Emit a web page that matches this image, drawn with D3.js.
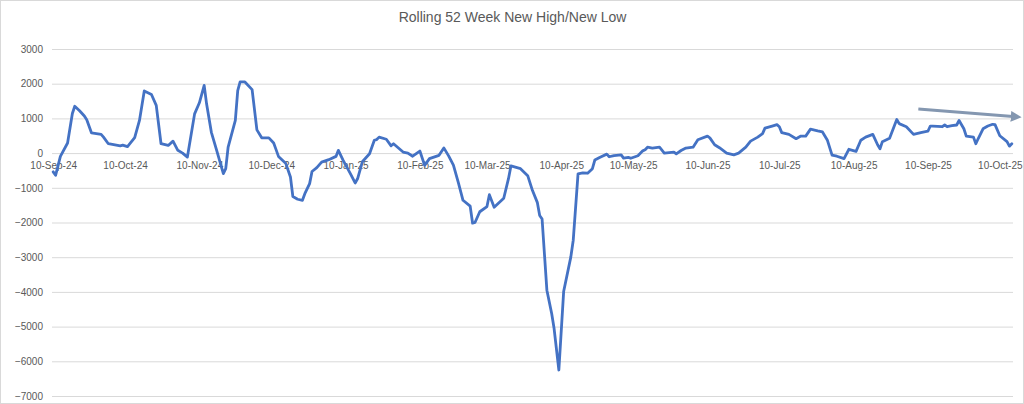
<!DOCTYPE html>
<html>
<head>
<meta charset="utf-8">
<script src="https://cdn.jsdelivr.net/npm/d3@7"></script>
<style>
  html, body { margin: 0; padding: 0; background: #fff; }
  svg { display: block; }
</style>
</head>
<body>
<svg id="chart" width="1024" height="404"></svg>
<script>
const title = "Rolling 52 Week New High/New Low";

const dates = [
"2024-09-10","2024-09-11","2024-09-13","2024-09-16","2024-09-18","2024-09-19","2024-09-21","2024-09-23","2024-09-24","2024-09-26",
"2024-09-30","2024-10-01","2024-10-03","2024-10-08","2024-10-09","2024-10-11","2024-10-14","2024-10-16","2024-10-18","2024-10-21",
"2024-10-23","2024-10-25","2024-10-28","2024-10-30","2024-11-01","2024-11-03","2024-11-05","2024-11-08","2024-11-10","2024-11-12",
"2024-11-13","2024-11-15","2024-11-17","2024-11-20","2024-11-21","2024-11-22","2024-11-25","2024-11-26","2024-11-27","2024-11-29",
"2024-12-02","2024-12-04","2024-12-06","2024-12-09","2024-12-11","2024-12-12","2024-12-13","2024-12-16","2024-12-18","2024-12-19",
"2024-12-21","2024-12-23","2024-12-24","2024-12-26","2024-12-27","2024-12-29","2024-12-31","2025-01-03","2025-01-06","2025-01-07",
"2025-01-09","2025-01-12","2025-01-14","2025-01-15","2025-01-17","2025-01-20","2025-01-22","2025-01-23","2025-01-24","2025-01-27",
"2025-01-29","2025-01-30","2025-02-03","2025-02-05","2025-02-07","2025-02-10","2025-02-12","2025-02-14","2025-02-18","2025-02-20",
"2025-02-22","2025-02-24","2025-02-26","2025-02-28","2025-03-03","2025-03-04","2025-03-05","2025-03-07","2025-03-10","2025-03-11",
"2025-03-13","2025-03-17","2025-03-19","2025-03-20","2025-03-24","2025-03-27","2025-03-29","2025-03-31","2025-04-01","2025-04-02",
"2025-04-04","2025-04-06","2025-04-07","2025-04-09","2025-04-11","2025-04-14","2025-04-15","2025-04-17","2025-04-19","2025-04-21",
"2025-04-23","2025-04-24","2025-04-26","2025-04-29","2025-04-30","2025-05-02","2025-05-05","2025-05-06","2025-05-08","2025-05-09",
"2025-05-12","2025-05-14","2025-05-15","2025-05-16","2025-05-18","2025-05-21","2025-05-23","2025-05-27","2025-05-28","2025-05-30",
"2025-06-01","2025-06-04","2025-06-06","2025-06-10","2025-06-11","2025-06-13","2025-06-15","2025-06-18","2025-06-21","2025-06-23",
"2025-06-26","2025-06-28","2025-07-01","2025-07-03","2025-07-04","2025-07-07","2025-07-09","2025-07-10","2025-07-11","2025-07-14",
"2025-07-17","2025-07-19","2025-07-21","2025-07-23","2025-07-26","2025-07-28","2025-07-30","2025-08-01","2025-08-03","2025-08-06",
"2025-08-08","2025-08-11","2025-08-13","2025-08-15","2025-08-18","2025-08-20","2025-08-21","2025-08-22","2025-08-25","2025-08-26",
"2025-08-28","2025-08-29","2025-09-01","2025-09-04","2025-09-07","2025-09-10","2025-09-11","2025-09-12","2025-09-16","2025-09-17",
"2025-09-18","2025-09-20","2025-09-22","2025-09-23","2025-09-25","2025-09-26","2025-09-29","2025-09-30","2025-10-01","2025-10-03",
"2025-10-05","2025-10-07","2025-10-08","2025-10-10","2025-10-13","2025-10-14","2025-10-15"
];

const values = [
-540,-640,-95,290,1140,1350,1220,1070,960,580,
540,460,270,210,230,185,445,940,1790,1690,
1375,270,220,345,80,0,-115,1130,1450,1950,
1420,600,130,-590,-450,175,940,1800,2050,2050,
1830,670,440,440,290,100,-95,-290,-690,-1250,
-1330,-1360,-1170,-880,-530,-420,-260,-190,-95,80,
-210,-590,-860,-740,-250,-20,370,390,460,400,
210,270,30,0,-90,60,-355,-160,-65,150,
-80,-345,-840,-1360,-1530,-2020,-2000,-1690,-1540,-1200,
-1560,-1300,-730,-370,-450,-650,-1080,-1420,-1800,-1900,
-3950,-4620,-5050,-6250,-3990,-2990,-2510,-600,-570,-580,
-450,-200,-125,-30,-105,-70,-50,-145,-125,-150,
-75,65,95,170,145,170,0,30,-20,75,
145,170,385,490,440,240,155,0,-50,0,
170,345,460,560,720,780,820,760,590,540,
415,490,490,690,640,610,380,-60,-90,-160,
110,50,370,460,540,240,125,330,430,610,
970,850,760,540,590,630,780,780,760,810,
760,790,810,940,700,490,460,270,420,700,
780,830,820,500,330,200,270
];

const yTicks = [-7000,-6000,-5000,-4000,-3000,-2000,-1000,0,1000,2000,3000];
const xTickDates = ["2024-09-10","2024-10-10","2024-11-10","2024-12-10","2025-01-10","2025-02-10","2025-03-10",
  "2025-04-10","2025-05-10","2025-06-10","2025-07-10","2025-08-10","2025-09-10","2025-10-10"];

// trend arrow annotation (start / end)
const arrowDates = ["2025-09-06","2025-10-18"];
const arrowValues = [1270, 1040];

const parse = d3.utcParse("%Y-%m-%d");
const fmt = d3.utcFormat("%d-%b-%y");
const data = dates.map((d, i) => ({ date: parse(d), value: values[i] }));

const svg = d3.select("#chart");
const W = 1024, H = 404;
const plot = { left: 52, right: 1013, top: 49, bottom: 396 };

svg.append("rect").attr("x", 0.5).attr("y", 0.5).attr("width", W - 1).attr("height", H - 1)
  .attr("fill", "#fff").attr("stroke", "#d9d9d9");

const x0 = d3.utcHour.offset(parse(dates[0]), -12);
const x1 = d3.utcHour.offset(parse(dates[dates.length - 1]), 12);
const x = d3.scaleUtc().domain([x0, x1]).range([plot.left, plot.right]);
const y = d3.scaleLinear().domain([-7000, 3000]).range([plot.bottom, plot.top]);

const font = "'Liberation Sans', Arial, sans-serif";
const textColor = "#595959";

// gridlines
const yAxis = d3.axisLeft(y).tickValues(yTicks).tickSize(-(plot.right - plot.left)).tickPadding(9)
  .tickFormat(d3.format("d"));
const gy = svg.append("g").attr("transform", `translate(${plot.left},0)`).call(yAxis);
gy.select(".domain").remove();
gy.selectAll(".tick line").attr("stroke", "#d9d9d9").attr("stroke-width", 1);
gy.selectAll(".tick text").attr("fill", textColor).style("font-family", font).style("font-size", "10px");

// x axis labels at zero line
const xAxis = d3.axisBottom(x).tickValues(xTickDates.map(parse)).tickSize(0).tickPadding(9).tickFormat(fmt);
const gx = svg.append("g").attr("transform", `translate(0,${y(0)})`).call(xAxis);
gx.select(".domain").remove();
gx.selectAll(".tick text").attr("fill", textColor).style("font-family", font).style("font-size", "10px");

// title
svg.append("text").attr("x", (plot.left + plot.right) / 2 - 20).attr("y", 22)
  .attr("text-anchor", "middle").attr("fill", textColor)
  .style("font-family", font).style("font-size", "14px").text(title);

// line
const line = d3.line().x(d => x(d.date)).y(d => y(d.value));
svg.append("path").datum(data).attr("d", line)
  .attr("fill", "none").attr("stroke", "#4472C4").attr("stroke-width", 2.8)
  .attr("stroke-linejoin", "round").attr("stroke-linecap", "round");

// arrow
const defs = svg.append("defs");
defs.append("marker").attr("id", "arrowhead").attr("viewBox", "0 0 10 10")
  .attr("refX", 2).attr("refY", 5).attr("markerWidth", 3.6).attr("markerHeight", 3.6)
  .attr("orient", "auto").attr("markerUnits", "strokeWidth")
  .append("path").attr("d", "M0,0 L10,5 L0,10 z").attr("fill", "#8497B0");
const ax = arrowDates.map(d => x(parse(d)));
const ay = arrowValues.map(v => y(v));
svg.append("line").attr("x1", ax[0]).attr("y1", ay[0]).attr("x2", ax[1] - 6).attr("y2", ay[1] - 0.5)
  .attr("stroke", "#8497B0").attr("stroke-width", 3).attr("marker-end", "url(#arrowhead)");
</script>
</body>
</html>
